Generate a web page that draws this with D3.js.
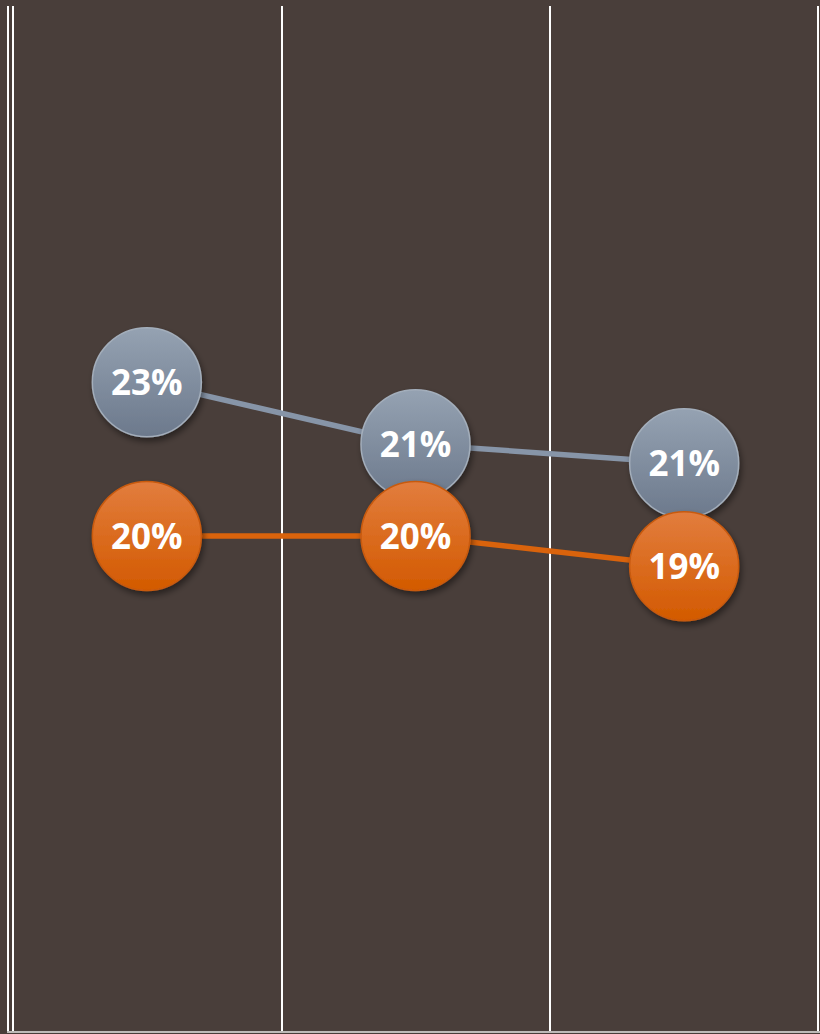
<!DOCTYPE html>
<html><head><meta charset="utf-8">
<script src="https://cdn.jsdelivr.net/npm/d3@7"></script>
<style>html,body{margin:0;padding:0;background:#493e3a;}svg{display:block;}</style>
</head><body>
<script>
const categories = ["A", "B", "C"];
const seriesGray = [22.66, 21.45, 21.08];
const seriesOrange = [19.66, 19.66, 19.07];
const yDomain = [10, 30];

const W = 820, H = 1034;
const svg = d3.select("body").append("svg").attr("width", W).attr("height", H);
const defs = svg.append("defs");

function grad(id, c1, c2) {
  const g = defs.append("linearGradient").attr("id", id).attr("x1", 0).attr("y1", 0).attr("x2", 0).attr("y2", 1);
  g.append("stop").attr("offset", "0%").attr("stop-color", c1);
  g.append("stop").attr("offset", "100%").attr("stop-color", c2);
}
grad("gGray", "#95a2b2", "#6c798c");
grad("gOrange", "#e27d3e", "#d35a00");
const f = defs.append("filter").attr("id", "shadow").attr("x", "-30%").attr("y", "-30%").attr("width", "160%").attr("height", "160%");
f.append("feDropShadow").attr("dx", 2).attr("dy", 4).attr("stdDeviation", 3).attr("flood-color", "#000").attr("flood-opacity", 0.45);

svg.append("rect").attr("width", W).attr("height", H).attr("fill", "#493e3a");

const x = d3.scaleBand().domain(categories).range([13, 819]);
const y = d3.scaleLinear().domain(yDomain).range([1031, 6]);

// grid lines
const gridX = categories.map(c => x(c)).concat([x.range()[1] - 1]);
svg.append("g").selectAll("line").data(gridX).join("line")
  .attr("x1", d => Math.round(d)).attr("x2", d => Math.round(d)).attr("y1", 6).attr("y2", 1031)
  .attr("stroke", "#ffffff").attr("stroke-width", 2);
svg.append("line").attr("x1", 8).attr("x2", 8).attr("y1", 6).attr("y2", 1031).attr("stroke", "#ffffff").attr("stroke-width", 2);
svg.append("line").attr("x1", 7).attr("x2", 820).attr("y1", 1032).attr("y2", 1032).attr("stroke", "#bdbab8").attr("stroke-width", 2);

const cx = c => x(c) + x.bandwidth() / 2 - 0.5;
const fmt = v => d3.format(".0f")(v) + "%";

function drawSeries(vals, lineColor) {
  const data = categories.map((c, i) => ({c, v: vals[i]}));
  svg.append("path").datum(data)
    .attr("d", d3.line().x(d => cx(d.c)).y(d => y(d.v)))
    .attr("fill", "none").attr("stroke", lineColor).attr("stroke-width", 5.5);
  return data;
}
const dG = drawSeries(seriesGray, "#8795a8");
const dO = drawSeries(seriesOrange, "#d9630c");

function drawDots(data, fillId, borderColor) {
  const g = svg.append("g").selectAll("g").data(data).join("g");
  g.append("circle").attr("cx", d => cx(d.c)).attr("cy", d => y(d.v)).attr("r", 54.5)
    .attr("fill", `url(#${fillId})`).attr("stroke", borderColor).attr("stroke-width", 1.5)
    .attr("filter", "url(#shadow)");
  g.append("text").attr("x", d => cx(d.c)).attr("y", d => y(d.v)).attr("dy", "0.36em")
    .attr("text-anchor", "middle").attr("fill", "#ffffff")
    .attr("font-family", "'Open Sans', sans-serif").attr("font-weight", "bold").attr("font-size", 35)
    .text(d => fmt(d.v));
}
drawDots(dG, "gGray", "#a3aebb");
drawDots(dO, "gOrange", "#c85a10");
</script>
</body></html>
